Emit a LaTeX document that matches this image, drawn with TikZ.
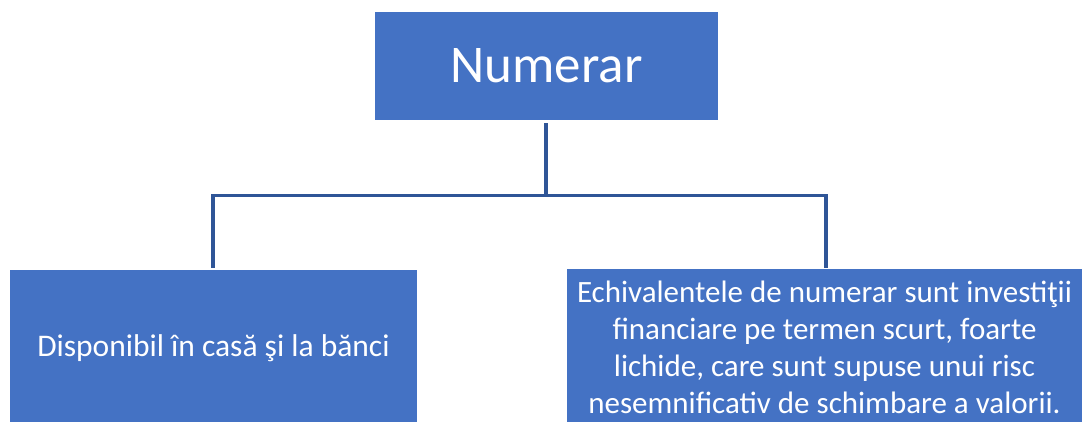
\documentclass[tikz,border=0pt]{standalone}
\usepackage{fontspec}
\setmainfont{Carlito}
\definecolor{boxblue}{HTML}{4472C4}
\definecolor{lineblue}{HTML}{2F5597}
\begin{document}
\begin{tikzpicture}[x=1pt,y=1pt,
  box/.style={fill=boxblue, draw=none, text=white, inner sep=0pt, align=center},
  conn/.style={draw=lineblue, line width=3.2pt}]
\clip (0,0) rectangle (1086,-421);
\fill[white] (0,0) rectangle (1086,-421);
\node[box, minimum width=343pt, minimum height=108pt, font=\fontsize{53}{63}\selectfont] (top) at (546.5,-66) {Numerar};
\node[box, minimum width=407pt, minimum height=156pt, font=\fontsize{31.5}{37}\selectfont] (left) at (213.5,-348) {Disponibil în casă şi la bănci};
\node[box, minimum width=515pt, minimum height=156pt, font=\fontsize{31}{37}\selectfont] (right) at (824.5,-347) {Echivalentele de numerar sunt investiţii\\financiare pe termen scurt, foarte\\lichide, care sunt supuse unui risc\\nesemnificativ de schimbare a valorii.};
\coordinate (j) at (546,-195.5);
\coordinate (jl) at (213,-195.5);
\coordinate (jr) at (826,-195.5);
\draw[conn] (546,-123) -- (j);
\draw[conn, line cap=rect] (jl) -- (jr);
\draw[conn] (jl) -- (213,-268);
\draw[conn] (jr) -- (826,-268);
\end{tikzpicture}
\end{document}
